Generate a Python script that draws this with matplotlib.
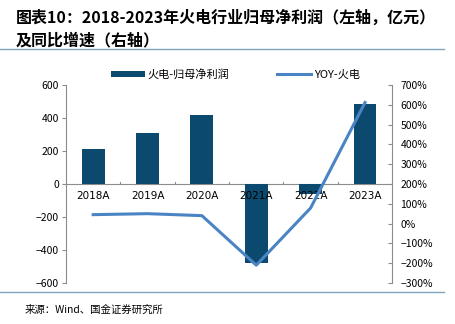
import numpy as np
import matplotlib
matplotlib.use("Agg")
import matplotlib.pyplot as plt
from matplotlib.ticker import FuncFormatter, FixedLocator

plt.rcParams['font.family'] = ['Noto Sans CJK SC', 'DejaVu Sans']
plt.rcParams['axes.unicode_minus'] = False

# data
years = ["2018A", "2019A", "2020A", "2021A", "2022A", "2023A"]
profit = [210, 307, 420, -479, -62, 487]          # 亿元, left axis
yoy = [45, 50, 40, -210, 79, 611]                 # %, right axis

bar_color = "#0b4a6e"
line_color = "#4a84c4"
grey = "#8c8c8c"

fig = plt.figure(figsize=(4.55, 3.24), dpi=100)
ax = fig.add_axes([0.145, 0.1265, 0.717, 0.6115])
x = np.arange(len(years))
ax.bar(x, profit, width=0.42, color=bar_color, label="火电-归母净利润", zorder=2)
ax.set_ylim(-600, 600)
ax.set_yticks(range(-600, 601, 200))
ax.set_xlim(-0.5, 5.5)
ax.set_xticks([])
ax.axhline(0, color=grey, lw=0.8, zorder=1)
for s in ["top", "right", "bottom"]:
    ax.spines[s].set_visible(False)
ax.spines["left"].set_color(grey)
ax.spines["left"].set_linewidth(0.8)
ax.tick_params(axis="y", labelsize=7.5, length=3, color=grey, width=0.8, pad=2)
for i, yr in enumerate(years):
    ax.text(i, -40, yr, ha="center", va="top", fontsize=7.5, zorder=4,
            family=["DejaVu Sans"])
# small tick marks on the zero line between categories
for b in np.arange(0.5, 5.0, 1.0):
    ax.plot([b, b], [0, 10], color=grey, lw=0.8, zorder=1)

ax2 = ax.twinx()
ax2.plot(x, yoy, color=line_color, lw=2.2, label="YOY-火电", zorder=3)
ax2.set_ylim(-300, 700)
ax2.yaxis.set_major_locator(FixedLocator(range(-300, 701, 100)))
ax2.yaxis.set_major_formatter(FuncFormatter(lambda v, p: f"{int(v)}%".replace("-", "\u2212")))
for s in ["top", "left", "bottom"]:
    ax2.spines[s].set_visible(False)
ax2.spines["right"].set_color(grey)
ax2.spines["right"].set_linewidth(0.8)
ax2.tick_params(axis="y", labelsize=7.5, length=3, direction="in", color=grey, width=0.8, pad=6)
ax.yaxis.set_major_formatter(FuncFormatter(lambda v, p: f"{int(v)}".replace("-", "\u2212")))

h1, l1 = ax.get_legend_handles_labels()
h2, l2 = ax2.get_legend_handles_labels()
fig.legend(h1 + h2, l1 + l2, loc="center", bbox_to_anchor=(0.518, 0.77), ncol=2,
           frameon=False, fontsize=8, handlelength=3.0, handleheight=0.5,
           columnspacing=4.3, handletextpad=0.3)

fig.text(0.035, 0.945, "图表10：2018-2023年火电行业归母净利润（左轴，亿元）",
         fontsize=11.5, fontweight="bold", fontstyle="italic", va="center")
fig.text(0.035, 0.875, "及同比增速（右轴）",
         fontsize=11.5, fontweight="bold", fontstyle="italic", va="center")
fig.add_artist(plt.Line2D([0.0, 0.975], [0.848, 0.848], color="#7fa3bd", lw=1.0))
fig.add_artist(plt.Line2D([0.0, 0.975], [0.098, 0.098], color="#7fa3bd", lw=1.0))
fig.text(0.055, 0.045, "来源：Wind、国金证券研究所", fontsize=7.5, va="center")

fig.savefig("out.png", dpi=100)
